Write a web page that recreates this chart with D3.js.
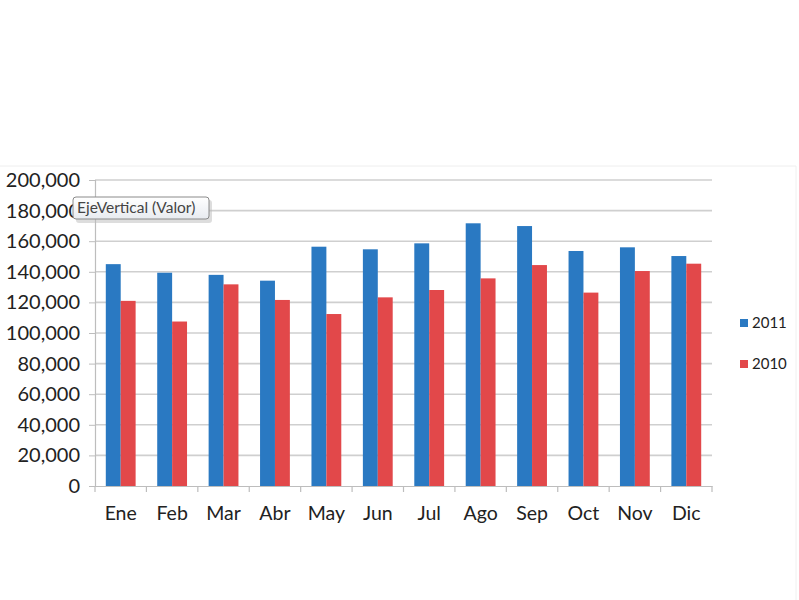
<!DOCTYPE html>
<html><head><meta charset="utf-8">
<script src="https://cdn.jsdelivr.net/npm/d3@7"></script>
<style>body{margin:0;background:#fff;}svg{display:block;}</style>
</head><body>
<svg id="c" width="799" height="600"></svg>
<script>
const months = ["Ene","Feb","Mar","Abr","May","Jun","Jul","Ago","Sep","Oct","Nov","Dic"];
const series = ["2011","2010"];
const v2011 = [145000,139400,138000,134200,156400,154700,158600,171700,169900,153600,156000,150300];
const v2010 = [121000,107500,131800,121600,112400,123300,128100,135700,144400,126400,140500,145300];
const yTicks = [0,20000,40000,60000,80000,100000,120000,140000,160000,180000,200000];
const colors = ["#2a79c2","#e2484a"];
const tooltipText = "EjeVertical (Valor)";

const svg = d3.select("#c");
const font = "Lato, 'Open Sans', sans-serif";
const L = 95, R = 712, T = 180, B = 486;

// faint chart frame
svg.append("line").attr("x1",0).attr("x2",796).attr("y1",166).attr("y2",166).attr("stroke","#eeeeee").attr("stroke-width",1);
svg.append("line").attr("x1",796).attr("x2",796).attr("y1",166).attr("y2",600).attr("stroke","#f0f0f0").attr("stroke-width",1);

const x = d3.scaleBand().domain(months).range([L,R]).paddingInner(0.42).paddingOuter(0.21);
const xs = d3.scaleBand().domain(series).range([0,x.bandwidth()]);
const y = d3.scaleLinear().domain([0,200000]).range([B,T]);

// gridlines
svg.append("g").selectAll("line").data(yTicks.filter(d=>d>0)).join("line")
  .attr("x1",L).attr("x2",R).attr("y1",d=>y(d)).attr("y2",d=>y(d))
  .attr("stroke","#cfcfcf").attr("stroke-width",1.6);

// y axis
const yAxis = svg.append("g").attr("transform",`translate(${L},0)`)
  .call(d3.axisLeft(y).tickValues(yTicks).tickSize(6).tickPadding(8).tickFormat(d3.format(",")));
yAxis.select(".domain").attr("stroke","#bdbdbd").attr("stroke-width",1.2);
yAxis.selectAll(".tick line").attr("stroke","#bdbdbd");
yAxis.selectAll("text").attr("font-family",font).attr("font-size",20).attr("fill","#222").attr("dx",-1);

// bars
const data = months.map((m,i)=>({m, vals:[v2011[i],v2010[i]]}));
const g = svg.append("g").selectAll("g").data(data).join("g").attr("transform",d=>`translate(${x(d.m)},0)`);
g.selectAll("rect").data(d=>d.vals.map((v,j)=>({s:series[j],v,j}))).join("rect")
  .attr("x",d=>xs(d.s)).attr("width",xs.bandwidth())
  .attr("y",d=>y(d.v)).attr("height",d=>B-y(d.v))
  .attr("fill",d=>colors[d.j]);

// x axis
const xAxis = svg.append("g").attr("transform",`translate(0,${B})`)
  .call(d3.axisBottom(x).tickSize(0).tickPadding(20));
xAxis.select(".domain").attr("stroke","#bdbdbd").attr("stroke-width",1.2);
xAxis.selectAll("text").attr("font-family",font).attr("font-size",19.5).attr("fill","#222");
const step = (R-L)/months.length;
svg.append("g").selectAll("line").data(d3.range(months.length+1)).join("line")
  .attr("x1",i=>L+i*step).attr("x2",i=>L+i*step).attr("y1",B).attr("y2",B+6)
  .attr("stroke","#bdbdbd").attr("stroke-width",1.2);

// legend
const leg = svg.append("g").selectAll("g").data(series).join("g")
  .attr("transform",(d,i)=>`translate(740,${323+i*41})`);
leg.append("rect").attr("x",0).attr("y",-4).attr("width",8).attr("height",8).attr("fill",(d,i)=>colors[i]);
leg.append("text").attr("x",12).attr("y",0).attr("dy","0.35em").text(d=>d)
  .attr("font-family",font).attr("font-size",15).attr("fill","#222");

// tooltip
const tip = svg.append("g").attr("transform","translate(73,197)");
tip.append("rect").attr("x",3).attr("y",3).attr("width",136).attr("height",23).attr("rx",3).attr("fill","#bbb").attr("opacity",0.5);
const grad = svg.append("defs").append("linearGradient").attr("id","tg").attr("x1",0).attr("x2",0).attr("y1",0).attr("y2",1);
grad.append("stop").attr("offset","0").attr("stop-color","#ffffff");
grad.append("stop").attr("offset","1").attr("stop-color","#e8ebf0");
tip.append("rect").attr("width",136).attr("height",22).attr("rx",3).attr("fill","url(#tg)").attr("stroke","#8a8a8a").attr("stroke-width",1);
tip.append("text").attr("x",4).attr("y",11).attr("dy","0.35em").text(tooltipText)
  .attr("font-family",font).attr("font-size",15.5).attr("fill","#444");
</script>
</body></html>
